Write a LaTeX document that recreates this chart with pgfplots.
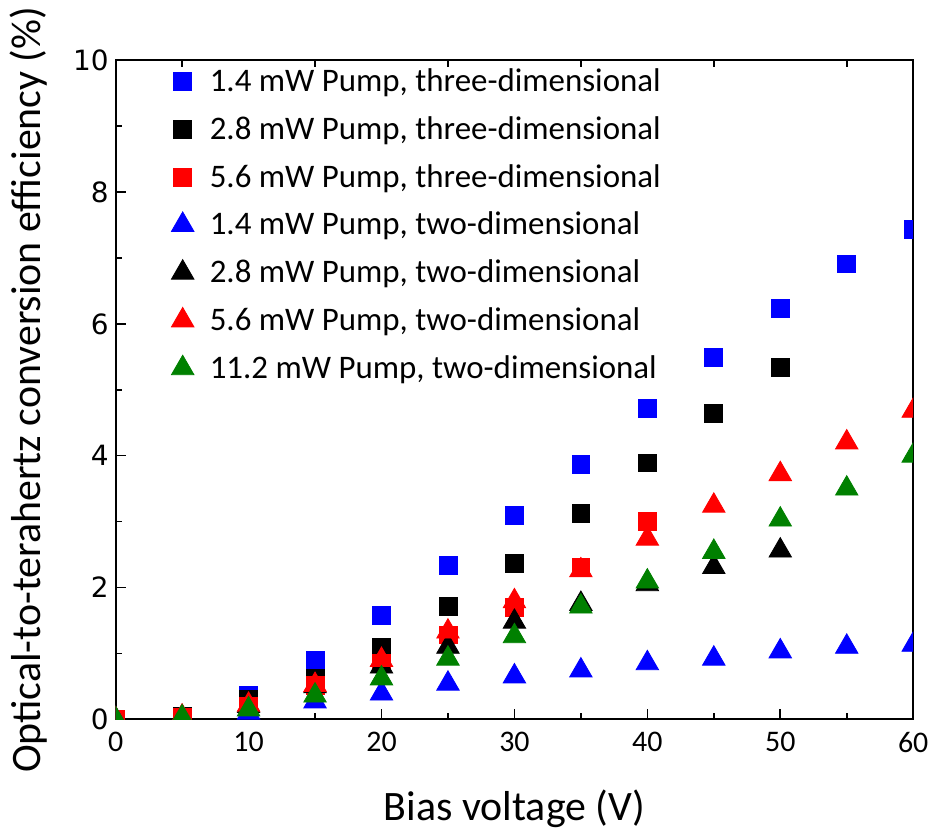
\documentclass[border=0pt]{standalone}
\usepackage{pgfplots}
\pgfplotsset{compat=1.18}
\usepackage{fontspec}
\setmainfont{Carlito}
\newfontfamily\tickfont{DejaVu Sans}

\definecolor{cblue}{RGB}{0,0,255}
\definecolor{cred}{RGB}{255,0,0}
\definecolor{cgreen}{RGB}{0,128,0}

% 3-D structure, squares
\pgfplotstableread{
x y
0 0.00
5 0.05
10 0.36
15 0.89
20 1.58
25 2.33
30 3.09
35 3.87
40 4.72
45 5.49
50 6.23
55 6.91
60 7.43
}\sqA
\pgfplotstableread{
x y
0 0.00
5 0.04
10 0.30
15 0.62
20 1.09
25 1.71
30 2.37
35 3.12
40 3.89
45 4.64
50 5.34
}\sqB
\pgfplotstableread{
x y
0 0.00
5 0.03
10 0.20
15 0.52
20 0.85
25 1.28
30 1.70
35 2.31
40 3.00
}\sqC
% 2-D structure, triangles
\pgfplotstableread{
x y
0 0.00
5 0.03
10 0.10
15 0.27
20 0.39
25 0.54
30 0.65
35 0.74
40 0.85
45 0.92
50 1.03
55 1.10
60 1.13
}\triA
\pgfplotstableread{
x y
0 0.00
5 0.03
10 0.20
15 0.50
20 0.80
25 1.10
30 1.48
35 1.75
40 2.05
45 2.31
50 2.56
}\triB
\pgfplotstableread{
x y
0 0.00
5 0.04
10 0.22
15 0.52
20 0.90
25 1.33
30 1.79
35 2.26
40 2.74
45 3.24
50 3.72
55 4.20
60 4.68
}\triC
\pgfplotstableread{
x y
0 0.00
5 0.03
10 0.15
15 0.36
20 0.62
25 0.92
30 1.26
35 1.71
40 2.09
45 2.54
50 3.03
55 3.50
60 4.00
}\triD

\begin{document}
\begin{tikzpicture}
\begin{axis}[
  scale only axis,
  width=400pt, height=330.5pt,
  xmin=0, xmax=60, ymin=0, ymax=10,
  axis line style={line width=1pt},
  xtick={0,10,...,60}, minor xtick={5,15,...,55},
  ytick={0,2,...,10}, minor ytick={1,3,...,9},
  tick align=inside,
  major tick length=5pt, minor tick length=3pt,
  every tick/.style={black, line width=0.8pt},
  xtick pos=bottom, ytick pos=left,
  xticklabel style={font=\fontsize{15}{15}\selectfont, yshift=-3pt},
  yticklabel style={font=\tickfont\fontsize{14}{14}\selectfont},
  /pgf/number format/assume math mode=true,
  xlabel={Bias voltage (V)},
  ylabel={Optical-to-terahertz conversion efficiency (\%)},
  xlabel style={font=\fontsize{21}{21}\selectfont, yshift=-12pt},
  ylabel style={font=\fontsize{21}{21}\selectfont, yshift=6pt},
  clip marker paths=true,
  legend cell align=left,
  legend image code/.code={%
    \path[draw=none, fill=none] (-5.6pt,0pt) -- (11.6pt,0pt);
    \draw[#1] plot coordinates {(0pt,0pt)};},
  legend style={at={(0.062,1.0)}, anchor=north west, draw=none, fill=none,
    font=\fontsize{16.5}{16.5}\selectfont, row sep=7pt},
  sqr/.style={only marks, mark=square*, mark size=4.5pt, draw=#1, fill=#1},
  tri/.style={only marks, mark=triangle*, mark size=6.5pt, draw=#1, fill=#1},
]
\addplot[sqr=cblue] table {\sqA};
\addlegendentry{1.4 mW Pump, three-dimensional}
\addplot[sqr=black] table {\sqB};
\addlegendentry{2.8 mW Pump, three-dimensional}
\addplot[sqr=cred] table {\sqC};
\addlegendentry{5.6 mW Pump, three-dimensional}
\addplot[tri=cblue] table {\triA};
\addlegendentry{1.4 mW Pump, two-dimensional}
\addplot[tri=black] table {\triB};
\addlegendentry{2.8 mW Pump, two-dimensional}
\addplot[tri=cred] table {\triC};
\addlegendentry{5.6 mW Pump, two-dimensional}
\addplot[tri=cgreen] table {\triD};
\addlegendentry{11.2 mW Pump, two-dimensional}
\end{axis}
% ticks along the top edge, between the bottom labels
\begin{axis}[
  scale only axis,
  width=400pt, height=330.5pt,
  xmin=0, xmax=60, ymin=0, ymax=10,
  axis line style={draw=none},
  xtick={5,15,...,55}, xticklabels={},
  xtick pos=top,
  ytick=\empty,
  tick align=inside, major tick length=3.5pt,
  every tick/.style={black, line width=0.8pt},
]
\end{axis}
\path[use as bounding box] (-58pt,-53pt) rectangle (409.5pt,358pt);
\end{tikzpicture}
\end{document}
